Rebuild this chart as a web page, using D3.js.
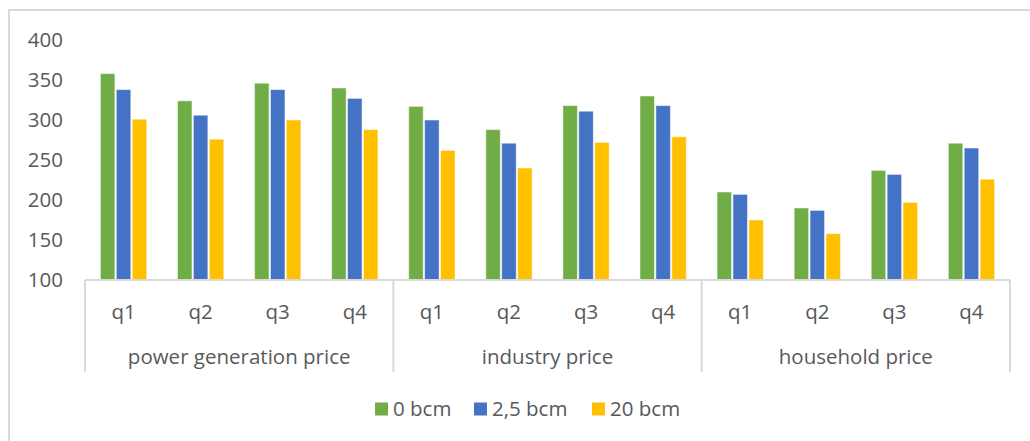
<!DOCTYPE html>
<html>
<head>
<meta charset="utf-8">
<script src="https://cdn.jsdelivr.net/npm/d3@7"></script>
<style>
	body { margin: 0; background: #fff; }
	svg { display: block; font-family: "Open Sans", sans-serif; }
</style>
</head>
<body>
<script>
// Data
const groups = ['power generation price', 'industry price', 'household price'];
const quarters = ['q1', 'q2', 'q3', 'q4'];
const series = ['0 bcm', '2,5 bcm', '20 bcm'];
const colors = ['#70AD47', '#4472C4', '#FFC000'];
const bcm0 = [358, 324, 346, 340, 317, 288, 318, 330, 210, 190, 237, 271];
const bcm25 = [338, 306, 338, 327, 300, 271, 311, 318, 207, 187, 232, 265];
const bcm20 = [301, 276, 300, 288, 262, 240, 272, 279, 175, 158, 197, 226];
const yTicks = [100, 150, 200, 250, 300, 350, 400];

const values = [bcm0, bcm25, bcm20];
const categories = groups.flatMap(g => quarters.map(q => g + '|' + q));

const width = 1030, height = 441;
const plot = { left: 85, right: 1010, top: 40, bottom: 280 };
const textColor = '#595959';
const lineColor = '#D9D9D9';
const fontSize = '20.5px';

const svg = d3.select('body').append('svg')
	.attr('width', width)
	.attr('height', height);

// Outer chart frame (cut off at right and bottom)
svg.append('rect')
	.attr('x', 9).attr('y', 10)
	.attr('width', 1060).attr('height', 480)
	.attr('fill', 'none')
	.attr('stroke', lineColor)
	.attr('stroke-width', 2);

const xScale = d3.scaleBand()
	.domain(categories)
	.range([plot.left, plot.right]);

const innerScale = d3.scaleBand()
	.domain(series)
	.range([0, 47.7]);

const yScale = d3.scaleLinear()
	.domain([100, 400])
	.range([plot.bottom, plot.top]);

// Y axis labels
svg.append('g')
	.selectAll('text')
	.data(yTicks)
	.enter().append('text')
	.attr('x', 63)
	.attr('y', d => yScale(d))
	.attr('dy', '0.35em')
	.attr('text-anchor', 'end')
	.attr('fill', textColor)
	.style('font-size', fontSize)
	.text(d => d);

// Bars
const offset = (xScale.bandwidth() - 47.7) / 2;
series.forEach((s, si) => {
	svg.append('g')
		.selectAll('rect')
		.data(values[si])
		.enter().append('rect')
		.attr('x', (d, i) => xScale(categories[i]) + offset + innerScale(s) + 0.7)
		.attr('width', innerScale.bandwidth() - 1.4)
		.attr('y', d => yScale(d))
		.attr('height', d => plot.bottom - yScale(d))
		.attr('fill', colors[si])
		.attr('stroke', '#fff')
		.attr('stroke-opacity', 0.5)
		.attr('stroke-width', 1);
});

// Category axis
const axis = svg.append('g')
	.attr('stroke', lineColor)
	.attr('stroke-width', 2);

axis.append('line')
	.attr('x1', plot.left).attr('x2', plot.right)
	.attr('y1', plot.bottom).attr('y2', plot.bottom);

const groupW = (plot.right - plot.left) / groups.length;
d3.range(groups.length + 1).forEach(i => {
	axis.append('line')
		.attr('x1', plot.left + i * groupW).attr('x2', plot.left + i * groupW)
		.attr('y1', plot.bottom).attr('y2', 372);
});

svg.append('g')
	.selectAll('text')
	.data(categories)
	.enter().append('text')
	.attr('x', d => xScale(d) + xScale.bandwidth() / 2)
	.attr('y', 312)
	.attr('dy', '0.35em')
	.attr('text-anchor', 'middle')
	.attr('fill', textColor)
	.style('font-size', fontSize)
	.text(d => d.split('|')[1]);

svg.append('g')
	.selectAll('text')
	.data(groups)
	.enter().append('text')
	.attr('x', (d, i) => plot.left + (i + 0.5) * groupW)
	.attr('y', 357)
	.attr('dy', '0.35em')
	.attr('text-anchor', 'middle')
	.attr('fill', textColor)
	.style('font-size', fontSize)
	.text(d => d);

// Legend
const legendX = [375, 474, 592];
const legend = svg.append('g');
series.forEach((s, i) => {
	legend.append('rect')
		.attr('x', legendX[i]).attr('y', 402.5)
		.attr('width', 13).attr('height', 13)
		.attr('fill', colors[i]);
	legend.append('text')
		.attr('x', legendX[i] + 18)
		.attr('y', 409)
		.attr('dy', '0.35em')
		.attr('fill', textColor)
		.style('font-size', fontSize)
		.text(s);
});
</script>
</body>
</html>
